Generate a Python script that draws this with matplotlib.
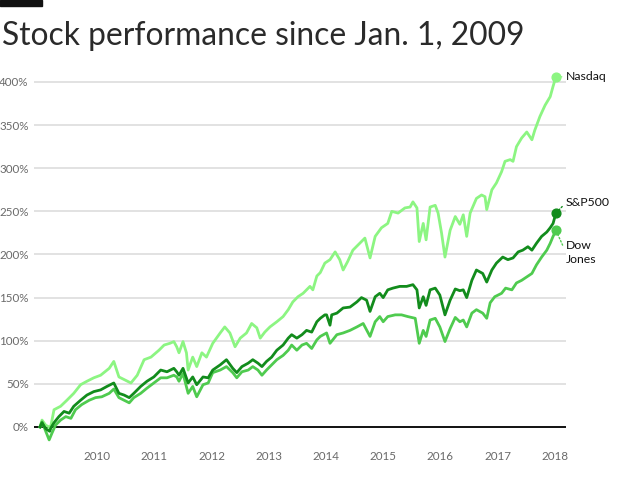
import matplotlib
matplotlib.use("Agg")
import matplotlib.pyplot as plt
from matplotlib.patches import Rectangle
from matplotlib.ticker import FuncFormatter

plt.rcParams['font.family'] = ['Lato', 'DejaVu Sans']

title = "Stock performance since Jan. 1, 2009"
year_ticks = [2010, 2011, 2012, 2013, 2014, 2015, 2016, 2017, 2018]
pct_ticks = [0, 50, 100, 150, 200, 250, 300, 350, 400]

nasdaq_t = [2009.00, 2009.035, 2009.10, 2009.16, 2009.18, 2009.245, 2009.36, 2009.47, 2009.59, 2009.71,
            2009.82, 2009.94, 2010.06, 2010.21, 2010.29, 2010.38, 2010.50, 2010.59, 2010.70, 2010.82,
            2010.94, 2011.08, 2011.17, 2011.27, 2011.34, 2011.39, 2011.43, 2011.50, 2011.56, 2011.59,
            2011.67, 2011.74, 2011.83, 2011.91, 2012.02, 2012.15, 2012.23, 2012.32, 2012.41, 2012.50,
            2012.61, 2012.70, 2012.79, 2012.85, 2012.93, 2013.02, 2013.14, 2013.25, 2013.34, 2013.42,
            2013.51, 2013.60, 2013.72, 2013.77, 2013.84, 2013.90, 2013.98, 2014.07, 2014.16, 2014.24,
            2014.30, 2014.38, 2014.47, 2014.59, 2014.68, 2014.77, 2014.86, 2014.97, 2015.08, 2015.15,
            2015.26, 2015.38, 2015.47, 2015.52, 2015.59, 2015.63, 2015.70, 2015.75, 2015.82, 2015.91,
            2015.96, 2016.02, 2016.08, 2016.17, 2016.26, 2016.34, 2016.40, 2016.46, 2016.52, 2016.63,
            2016.72, 2016.78, 2016.81, 2016.90, 2016.98, 2017.07, 2017.13, 2017.22, 2017.27, 2017.33,
            2017.42, 2017.51, 2017.60, 2017.65, 2017.74, 2017.83, 2017.92, 2017.97, 2018.02]
nasdaq_v = [0, 8, 2, 0, -2, 20, 24, 31, 39, 49,
            53, 57, 60, 68, 76, 58, 54, 51, 60, 78,
            81, 89, 95, 97, 99, 93, 86, 99, 86, 66,
            81, 70, 86, 81, 97, 109, 116, 109, 93, 103,
            109, 120, 115, 103, 110, 116, 122, 128, 136, 145,
            151, 155, 163, 159, 175, 179, 190, 194, 203, 194,
            182, 192, 205, 213, 219, 196, 221, 231, 236, 250,
            248, 254, 255, 261, 254, 215, 236, 217, 255, 257,
            248, 225, 197, 228, 244, 235, 246, 221, 248, 265,
            269, 267, 252, 275, 283, 296, 308, 310, 308, 325,
            335, 342, 333, 344, 360, 373, 383, 395, 406]

sp500_t = [2009.00, 2009.035, 2009.10, 2009.17, 2009.19, 2009.245, 2009.33, 2009.42, 2009.51, 2009.59,
           2009.71, 2009.82, 2009.94, 2010.06, 2010.17, 2010.29, 2010.38, 2010.47, 2010.56, 2010.64,
           2010.76, 2010.87, 2010.99, 2011.11, 2011.22, 2011.34, 2011.39, 2011.43, 2011.50, 2011.59,
           2011.67, 2011.74, 2011.85, 2011.94, 2012.02, 2012.15, 2012.26, 2012.37, 2012.44, 2012.53,
           2012.64, 2012.72, 2012.81, 2012.88, 2012.96, 2013.05, 2013.14, 2013.25, 2013.34, 2013.40,
           2013.49, 2013.58, 2013.66, 2013.75, 2013.84, 2013.90, 2013.98, 2014.01, 2014.07, 2014.10,
           2014.19, 2014.30, 2014.42, 2014.54, 2014.62, 2014.71, 2014.77, 2014.86, 2014.94, 2015.00,
           2015.08, 2015.17, 2015.29, 2015.41, 2015.52, 2015.59, 2015.63, 2015.70, 2015.75, 2015.82,
           2015.91, 2015.99, 2016.08, 2016.17, 2016.26, 2016.34, 2016.40, 2016.46, 2016.55, 2016.63,
           2016.74, 2016.81, 2016.90, 2016.98, 2017.09, 2017.18, 2017.27, 2017.36, 2017.44, 2017.53,
           2017.60, 2017.68, 2017.77, 2017.86, 2017.92, 2017.97, 2018.02]
sp500_v = [0, 5, -2, -5, -1, 5, 12, 18, 16, 24,
           31, 37, 41, 43, 47, 51, 39, 37, 34, 39,
           47, 53, 58, 66, 64, 68, 64, 60, 68, 51,
           58, 49, 58, 57, 66, 72, 78, 68, 63, 70,
           74, 78, 74, 70, 76, 81, 89, 95, 103, 107,
           103, 107, 112, 110, 122, 126, 130, 130, 118, 130,
           132, 138, 139, 145, 150, 147, 134, 151, 155, 150,
           159, 161, 163, 163, 165, 159, 138, 151, 141, 159,
           161, 153, 130, 147, 160, 158, 159, 150, 170, 182,
           178, 168, 182, 190, 197, 194, 196, 203, 205, 209,
           205, 213, 221, 226, 231, 236, 248]

dow_t = [2009.00, 2009.035, 2009.10, 2009.16, 2009.21, 2009.27, 2009.36, 2009.45, 2009.54, 2009.62,
         2009.73, 2009.86, 2009.97, 2010.08, 2010.21, 2010.29, 2010.38, 2010.47, 2010.56, 2010.64,
         2010.76, 2010.87, 2010.99, 2011.11, 2011.22, 2011.34, 2011.39, 2011.43, 2011.50, 2011.59,
         2011.67, 2011.74, 2011.85, 2011.94, 2012.02, 2012.15, 2012.26, 2012.37, 2012.44, 2012.53,
         2012.64, 2012.72, 2012.81, 2012.88, 2012.96, 2013.05, 2013.14, 2013.25, 2013.34, 2013.40,
         2013.49, 2013.58, 2013.66, 2013.75, 2013.84, 2013.90, 2014.01, 2014.07, 2014.19, 2014.30,
         2014.42, 2014.54, 2014.65, 2014.77, 2014.86, 2014.94, 2015.00, 2015.08, 2015.21, 2015.32,
         2015.43, 2015.56, 2015.63, 2015.70, 2015.75, 2015.82, 2015.91, 2015.99, 2016.08, 2016.17,
         2016.26, 2016.34, 2016.40, 2016.46, 2016.55, 2016.63, 2016.74, 2016.81, 2016.87, 2016.95,
         2017.07, 2017.14, 2017.25, 2017.33, 2017.42, 2017.51, 2017.60, 2017.68, 2017.77, 2017.86,
         2017.92, 2017.97, 2018.02]
dow_v = [0, 6, -5, -15, -7, 2, 8, 12, 10, 20,
         26, 31, 34, 35, 39, 44, 34, 31, 28, 34,
         39, 45, 51, 57, 57, 60, 58, 53, 62, 39,
         47, 35, 49, 51, 63, 66, 70, 63, 57, 64,
         66, 70, 66, 60, 66, 72, 78, 83, 89, 95,
         89, 95, 97, 91, 101, 105, 109, 97, 107, 109,
         112, 116, 120, 105, 122, 128, 122, 128, 130, 130,
         128, 126, 97, 112, 105, 124, 126, 116, 99, 114,
         127, 122, 124, 116, 132, 136, 132, 126, 144, 151,
         155, 161, 159, 167, 170, 174, 178, 188, 197, 205,
         213, 221, 228]

series = [
    ("Nasdaq", nasdaq_t, nasdaq_v, "#8cf582", (7.2, 0)),
    ("Dow\nJones", dow_t, dow_v, "#4fcb4f", (7.2, -16)),
    ("S&P500", sp500_t, sp500_v, "#128c1c", (7.2, 7.5)),
]

fig = plt.figure(figsize=(6.2, 4.98), dpi=100)
ax = fig.add_axes([34 / 620, 1 - 445 / 498, 532 / 620, 375 / 498])
ax.set_xlim(2008.895, 2018.196)
ax.set_ylim(-20.9, 413.9)

for s in ax.spines.values():
    s.set_visible(False)
ax.set_yticks(pct_ticks)
ax.yaxis.set_major_formatter(FuncFormatter(lambda v, p: f"{int(v)}%"))
ax.set_xticks(year_ticks)
ax.set_xticklabels([str(y) for y in year_ticks])
ax.tick_params(axis='both', length=0, labelsize=8.4, labelcolor='#6a6a6a')
ax.tick_params(axis='y', pad=3.8)
ax.tick_params(axis='x', pad=4)
for v in pct_ticks[1:]:
    ax.axhline(v, color='#e2e2e2', lw=1.4, zorder=0)
ax.axhline(0, color='#111111', lw=1.4, zorder=1)

for name, t, v, c, off in series:
    ax.plot(t, v, color=c, lw=2.0, solid_joinstyle='round', zorder=3)
    ax.plot([t[-1]], [v[-1]], 'o', color=c, ms=6.3, zorder=4, clip_on=False)
    ax.annotate(name, xy=(t[-1], v[-1]), xytext=off, textcoords='offset points',
                ha='left', va='center', fontsize=8.8, color='#111111', linespacing=1.25,
                arrowprops=dict(arrowstyle='-', linestyle=(0, (1, 1.5)), color=c, lw=1.0,
                                shrinkA=1, shrinkB=3, relpos=(0, 0.5)))

fig.text(2 / 620, 1 - 45 / 498, title, fontsize=22.9, color='#2a2a2a', ha='left', va='baseline',
         fontweight='normal')
fig.patches.append(Rectangle((0, 1 - 6 / 498), 42 / 620, 6 / 498, transform=fig.transFigure,
                             color='#111111', figure=fig))

fig.savefig("out.png", dpi=100)
